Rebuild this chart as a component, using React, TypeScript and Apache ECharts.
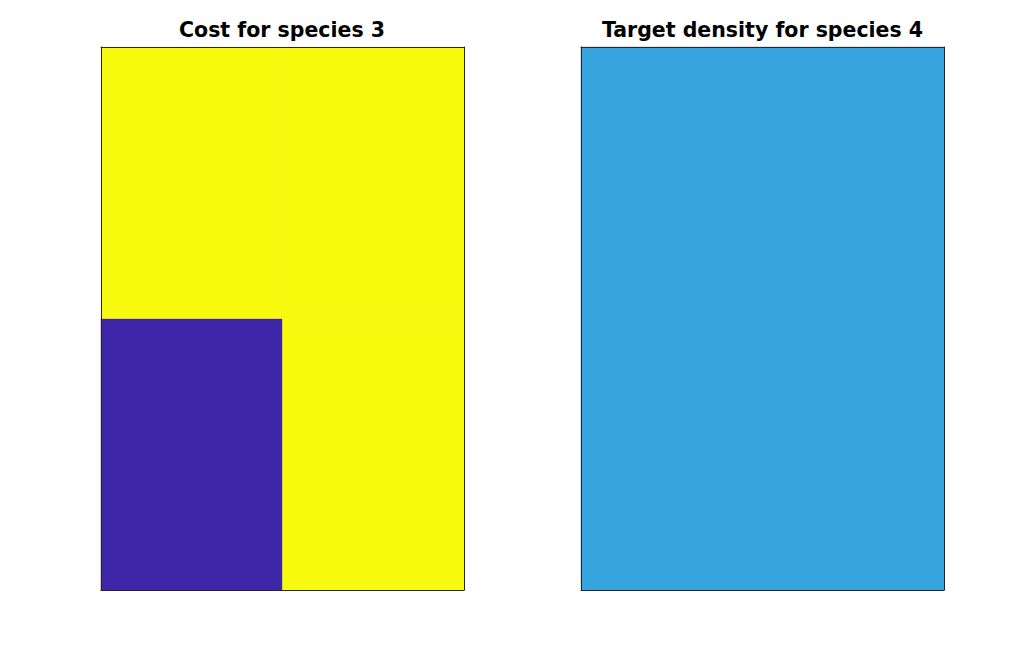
import React, { useEffect, useRef } from "react";
import * as echarts from "echarts";

const costX = ["1", "2"];
const costY = ["1", "2"];
// [xIndex, yIndex, value]; y index 0 is the bottom row
const costValues: [number, number, number][] = [
  [0, 0, 0],
  [1, 0, 1],
  [0, 1, 1],
  [1, 1, 1],
];
const densityX = ["1"];
const densityY = ["1"];
const densityValues: [number, number, number][] = [[0, 0, 0.3]];

const titles = ["Cost for species 3", "Target density for species 4"];

export default function App() {
  const ref = useRef<HTMLDivElement>(null);
  useEffect(() => {
    if (!ref.current) return;
    const chart = echarts.init(ref.current, null, { renderer: "svg" });
    const lineStyle = { color: "#262626", width: 1 };
    const mkX = (grid: number, data: string[], pos: "bottom" | "top") => ({
      type: "category" as const,
      gridIndex: grid,
      data,
      position: pos,
      axisLine: { show: true, lineStyle },
      axisTick: { show: false },
      axisLabel: { show: false },
      splitLine: { show: false },
      z: 10,
    });
    const mkY = (grid: number, data: string[], pos: "left" | "right") => ({
      type: "category" as const,
      gridIndex: grid,
      data,
      position: pos,
      axisLine: { show: true, lineStyle },
      axisTick: { show: false },
      axisLabel: { show: false },
      splitLine: { show: false },
      z: 10,
    });
    const titleStyle = {
      fontFamily: "DejaVu Sans",
      fontWeight: "bold" as const,
      fontSize: 20.5,
      color: "#000",
    };
    chart.setOption({
      animation: false,
      backgroundColor: "#ffffff",
      title: [
        { text: titles[0], left: 277, top: 14, textAlign: "center", textStyle: titleStyle },
        { text: titles[1], left: 757.5, top: 14, textAlign: "center", textStyle: titleStyle },
      ],
      grid: [
        { left: 101, top: 47, width: 363, height: 543 },
        { left: 581, top: 47, width: 363, height: 543 },
      ],
      xAxis: [
        mkX(0, costX, "bottom"),
        mkX(0, costX, "top"),
        mkX(1, densityX, "bottom"),
        mkX(1, densityX, "top"),
      ],
      yAxis: [
        mkY(0, costY, "left"),
        mkY(0, costY, "right"),
        mkY(1, densityY, "left"),
        mkY(1, densityY, "right"),
      ],
      visualMap: [
        {
          show: false,
          seriesIndex: 0,
          min: 0,
          max: 1,
          inRange: { color: ["#3E26A8", "#F9FB0E"] },
        },
        {
          show: false,
          seriesIndex: 1,
          min: 0,
          max: 1,
          inRange: { color: ["#36A5DF", "#36A5DF"] },
        },
      ],
      series: [
        {
          type: "heatmap",
          xAxisIndex: 0,
          yAxisIndex: 0,
          data: costValues,
          itemStyle: { borderWidth: 0 },
          emphasis: { disabled: true },
        },
        {
          type: "heatmap",
          xAxisIndex: 2,
          yAxisIndex: 2,
          data: densityValues,
          itemStyle: { borderWidth: 0 },
          emphasis: { disabled: true },
        },
      ],
    });
    return () => chart.dispose();
  }, []);
  return (
    <div
      ref={ref}
      style={{ position: "fixed", left: 0, top: 0, width: 1017, height: 653 }}
    />
  );
}
